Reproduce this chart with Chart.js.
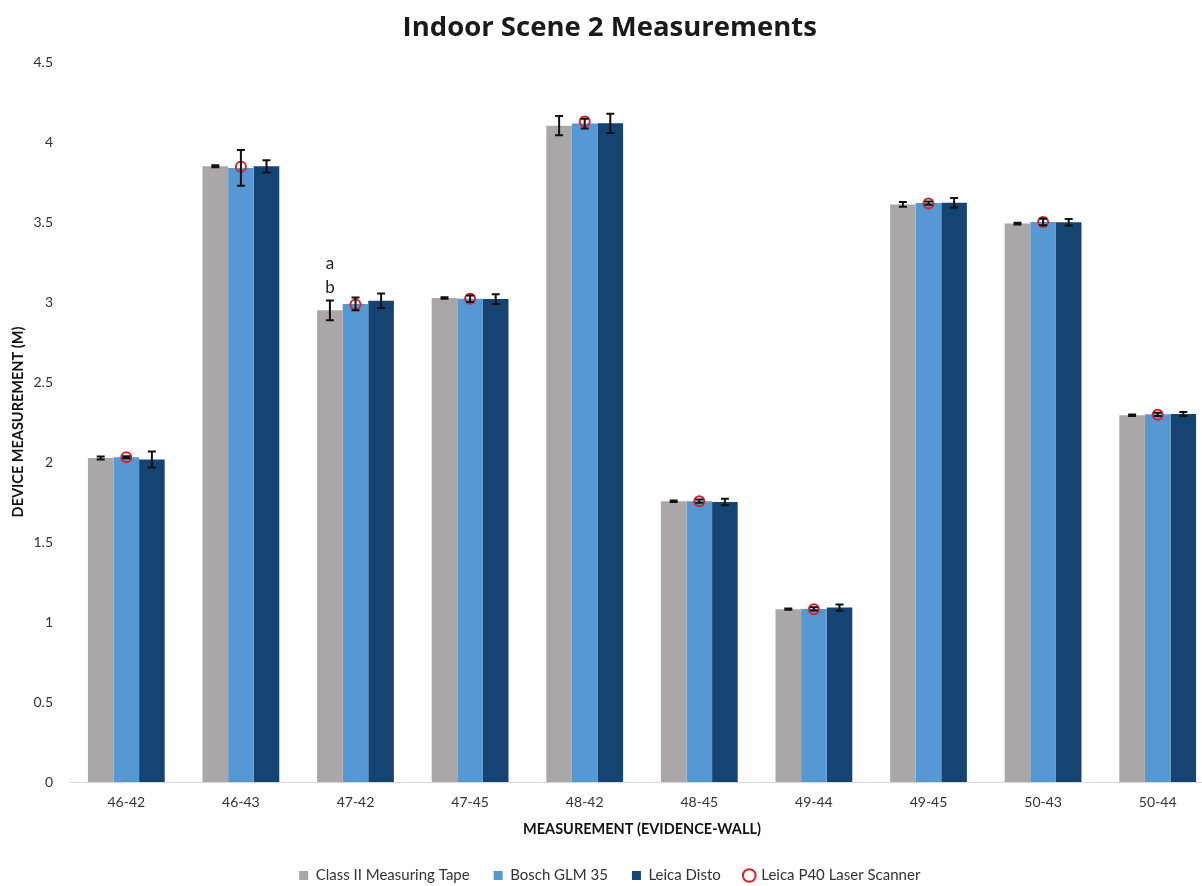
<!DOCTYPE html>
<html>
<head>
<meta charset="utf-8">
<title>Indoor Scene 2 Measurements</title>
<script src="https://cdn.jsdelivr.net/npm/chart.js@4.4.1/dist/chart.umd.min.js"></script>
<style>
  html, body { margin: 0; padding: 0; background: #fff; overflow: hidden; }
  #wrap { width: 1222px; height: 886px; }
</style>
</head>
<body>
<div id="wrap"><canvas id="chartCanvas" width="1222" height="886"></canvas></div>
<script>
// measurement pairs (evidence-wall)
var categories = ['46-42', '46-43', '47-42', '47-45', '48-42', '48-45', '49-44', '49-45', '50-43', '50-44'];

// mean device readings (m)
var tapeValues   = [2.025, 3.848, 2.948, 3.025, 4.102, 1.755, 1.080, 3.610, 3.490, 2.292];
var boschValues  = [2.030, 3.838, 2.988, 3.020, 4.115, 1.755, 1.082, 3.618, 3.500, 2.298];
var distoValues  = [2.015, 3.848, 3.008, 3.018, 4.117, 1.750, 1.090, 3.620, 3.498, 2.300];
var laserValues  = [2.030, 3.845, 2.985, 3.020, 4.128, 1.755, 1.080, 3.615, 3.500, 2.295];

// error bar half-heights (m)
var tapeErrors   = [0.010, 0.006, 0.062, 0.005, 0.060, 0.005, 0.004, 0.015, 0.005, 0.005];
var boschErrors  = [0.006, 0.112, 0.040, 0.020, 0.030, 0.010, 0.010, 0.010, 0.020, 0.010];
var distoErrors  = [0.050, 0.038, 0.045, 0.030, 0.060, 0.020, 0.020, 0.030, 0.020, 0.012];

// significance letters above a bar
var letterCategory = '47-42';
var letterSeries = 0;
var letterText = ['a', 'b'];

var yTicks = [0, 0.5, 1, 1.5, 2, 2.5, 3, 3.5, 4, 4.5];

Chart.defaults.font.family = 'Lato';
Chart.defaults.color = '#404040';

var errorBars = {
  id: 'errorBars',
  afterDatasetsDraw: function (chart) {
    var ctx = chart.ctx;
    var y = chart.scales.y;
    ctx.save();
    ctx.strokeStyle = '#111';
    ctx.lineWidth = 2;
    chart.data.datasets.forEach(function (ds, i) {
      if (!ds.errors) return;
      var meta = chart.getDatasetMeta(i);
      meta.data.forEach(function (bar, j) {
        var x = bar.x;
        var top = y.getPixelForValue(ds.data[j] + ds.errors[j]);
        var bot = y.getPixelForValue(ds.data[j] - ds.errors[j]);
        ctx.beginPath();
        ctx.moveTo(x, top); ctx.lineTo(x, bot);
        ctx.moveTo(x - 4, top); ctx.lineTo(x + 4, top);
        ctx.moveTo(x - 4, bot); ctx.lineTo(x + 4, bot);
        ctx.stroke();
      });
    });
    // letters
    var idx = categories.indexOf(letterCategory);
    var ds = chart.data.datasets[letterSeries];
    var bar = chart.getDatasetMeta(letterSeries).data[idx];
    var topY = y.getPixelForValue(ds.data[idx] + ds.errors[idx]);
    ctx.fillStyle = '#222';
    ctx.font = '17px Lato';
    ctx.textAlign = 'center';
    ctx.textBaseline = 'middle';
    for (var k = letterText.length - 1, n = 0; k >= 0; k--, n++) {
      ctx.fillText(letterText[k], bar.x, topY - 13 - n * 24);
    }
    ctx.restore();
  }
};

var ctx = document.getElementById('chartCanvas').getContext('2d');
var chart = new Chart(ctx, {
  type: 'bar',
  data: {
    labels: categories,
    datasets: [{
      label: 'Class II Measuring Tape',
      data: tapeValues,
      errors: tapeErrors,
      backgroundColor: '#ABA7A8',
      pointStyle: 'rect',
      borderWidth: 0
    }, {
      label: 'Bosch GLM 35',
      data: boschValues,
      errors: boschErrors,
      backgroundColor: '#5598D4',
      pointStyle: 'rect',
      borderWidth: 0
    }, {
      label: 'Leica Disto',
      data: distoValues,
      errors: distoErrors,
      backgroundColor: '#154472',
      pointStyle: 'rect',
      borderWidth: 0
    }, {
      type: 'line',
      label: 'Leica P40 Laser Scanner',
      data: laserValues,
      showLine: false,
      pointStyle: 'circle',
      pointRadius: 5,
      pointBorderWidth: 2,
      borderWidth: 2,
      borderColor: '#D8232A',
      pointBorderColor: '#D8232A',
      backgroundColor: 'rgba(0,0,0,0)',
      pointBackgroundColor: 'rgba(0,0,0,0)',
      order: -1
    }]
  },
  options: {
    responsive: false,
    animation: false,
    layout: { padding: { left: 0, right: 2.5, top: 0, bottom: -7 } },
    datasets: { bar: { categoryPercentage: 0.67, barPercentage: 1.0 } },
    plugins: {
      title: {
        display: true,
        text: 'Indoor Scene 2 Measurements',
        color: '#1a1a1a',
        font: { family: 'Open Sans', size: 27.5, weight: 'bold' },
        padding: { top: 12, bottom: 17 }
      },
      legend: {
        position: 'bottom',
        labels: {
          usePointStyle: true,
          boxWidth: 9,
          boxHeight: 9,
          padding: 24,
          color: '#333',
          font: { size: 15 },
          sort: function (a, b) { return a.datasetIndex - b.datasetIndex; }
        }
      },
      tooltip: { enabled: false }
    },
    scales: {
      x: {
        offset: true,
        grid: { display: false, drawTicks: false },
        border: { display: true, color: '#D9D9D9', width: 1 },
        ticks: { padding: 12, color: '#333', font: { size: 14 } },
        title: {
          display: true,
          text: 'MEASUREMENT (EVIDENCE-WALL)',
          color: '#111',
          font: { size: 14.5, weight: 'bold' },
          padding: { top: 6, bottom: 6 }
        },
        afterFit: function (s) { s.height = 62; }
      },
      y: {
        min: 0,
        max: 4.5,
        afterBuildTicks: function (s) { s.ticks = yTicks.map(function (v) { return { value: v }; }); },
        grid: { display: false, drawTicks: false },
        border: { display: false },
        ticks: {
          padding: 16,
          color: '#333',
          font: { size: 14 },
          callback: function (v) { return String(v); }
        },
        title: {
          display: true,
          text: 'DEVICE MEASUREMENT (M)',
          color: '#111',
          font: { size: 14.5, weight: 'bold' },
          padding: { top: 10, bottom: 0 }
        },
        afterFit: function (s) { s.width = 69; }
      }
    }
  },
  plugins: [errorBars]
});
</script>
</body>
</html>
